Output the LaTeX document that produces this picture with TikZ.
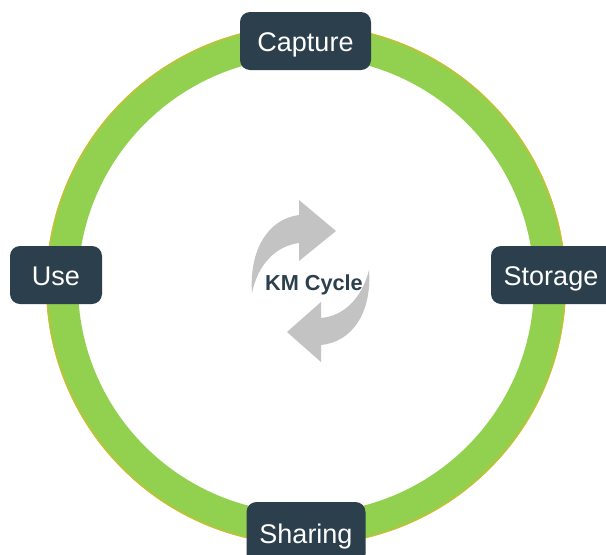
\documentclass[tikz,border=0pt]{standalone}
\usepackage{fontspec}
\setmainfont{Liberation Sans}
\definecolor{boxc}{HTML}{2B3F4C}
\definecolor{ringg}{HTML}{92D14F}
\definecolor{ringy}{HTML}{D9B92B}
\definecolor{arrowg}{HTML}{C3C3C3}
\tikzset{
  stagebox/.style={fill=boxc,rounded corners=10pt,text=white,font=\fontsize{27}{30}\selectfont,inner sep=0pt,minimum height=58pt,text height=25pt,text depth=4pt,anchor=center},
  cyclearrow/.style={fill=arrowg,draw=none},
}
\begin{document}
\begin{tikzpicture}[x=1pt,y=-1pt]
\useasboundingbox (0,0) rectangle (606,555);
\clip (0,0) rectangle (606,555);
% ring
\coordinate (ringc) at (306,285);
\fill[ringg,even odd rule] (ringc) circle[radius=260] (ringc) circle[radius=228];
\draw[ringy,line width=0.9pt] (ringc) circle[radius=259.5];
\draw[ringg!75!ringy,line width=0.6pt] (ringc) circle[radius=257.5];
% arrows
\fill[cyclearrow] (252,293) .. controls (249,250) and (268,219) .. (299,215) -- (299,200) -- (336,231) -- (299,261) -- (299,243) .. controls (276,246) and (258,264) .. cycle;
\fill[cyclearrow] (369,270) .. controls (372,313) and (352,342) .. (321,345) -- (321,362) -- (287,332) -- (321,302) -- (321,318) .. controls (344,316) and (362,298) .. cycle;
\node[text=boxc,font=\fontsize{21.7}{24}\selectfont\bfseries,inner sep=0pt] (km) at (314,285) {KM Cycle};
% stages
\node[stagebox,minimum width=131pt] (capture) at (305.5,41) {Capture};
\node[stagebox,minimum width=92pt] (use) at (56,275) {Use};
\node[stagebox,minimum width=135pt] (storage) at (558.5,275) {Storage\hspace*{15pt}};
\node[stagebox,minimum width=119pt,minimum height=62pt] (sharing) at (306,533) {Sharing};
\end{tikzpicture}
\end{document}
